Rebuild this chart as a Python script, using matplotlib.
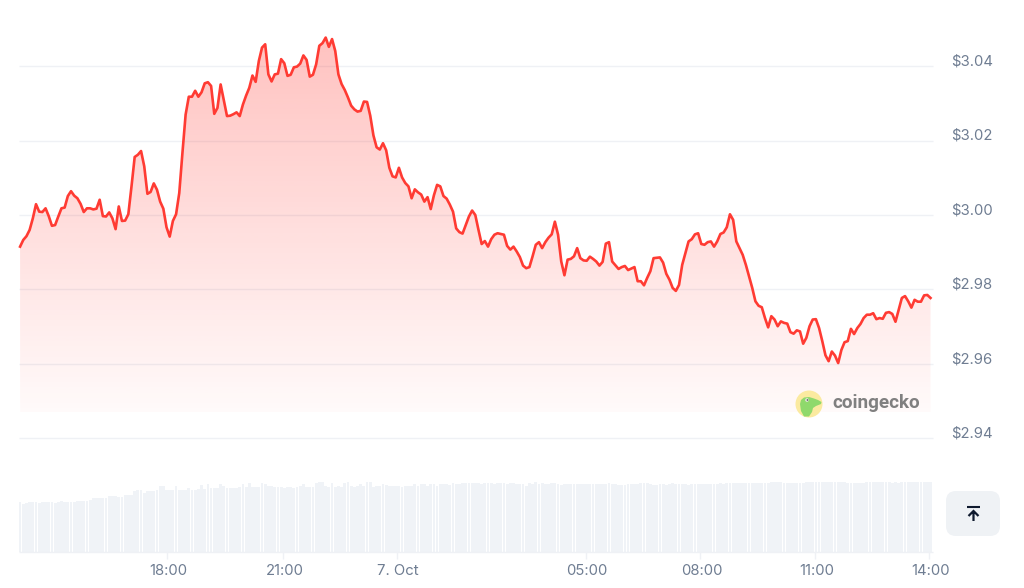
import numpy as np
import matplotlib
matplotlib.use("Agg")
import matplotlib.pyplot as plt
from matplotlib.patches import Circle, FancyBboxPatch, PathPatch, Polygon
from matplotlib.path import Path

plt.rcParams["font.family"] = ["Inter", "DejaVu Sans"]

# hours relative to 7 Oct 00:00, one sample every 5 minutes
START_HOUR = -9.82
STEP_HOUR = 5 / 60

price_a = [
    2.9915, 2.9933, 2.9943, 2.9960, 2.9991, 3.0029, 3.0009, 3.0008, 3.0018, 2.9997,
    2.9971, 2.9973, 2.9996, 3.0018, 3.0020, 3.0051, 3.0064, 3.0052, 3.0045, 3.0030,
    3.0008, 3.0018, 3.0018, 3.0015, 3.0017, 3.0041, 2.9997, 2.9996, 3.0007, 2.9991,
    2.9962, 3.0023, 2.9984, 2.9985, 3.0002, 3.0077, 3.0156, 3.0162, 3.0172, 3.0131,
    3.0057, 3.0062, 3.0085, 3.0068, 3.0036, 3.0017, 2.9967, 2.9942, 2.9984, 3.0002,
    3.0059, 3.0167, 3.0270, 3.0318, 3.0318, 3.0334, 3.0318, 3.0330, 3.0354, 3.0357,
    3.0347, 3.0272, 3.0288, 3.0351, 3.0308, 3.0266, 3.0267, 3.0271, 3.0276, 3.0266,
    3.0297, 3.0321, 3.0342, 3.0375, 3.0358, 3.0414, 3.0450, 3.0459, 3.0378, 3.0359,
    3.0378, 3.0380, 3.0419, 3.0408, 3.0374, 3.0377, 3.0397, 3.0399, 3.0407, 3.0429,
    3.0417, 3.0372, 3.0377, 3.0405, 3.0455, 3.0462, 3.0477, 3.0452, 3.0473, 3.0441,
    3.0378,
]
price_b = [
    3.0352, 3.0336, 3.0316, 3.0294, 3.0284, 3.0278, 3.0280, 3.0305, 3.0304, 3.0267,
    3.0214, 3.0182, 3.0176, 3.0193, 3.0174, 3.0127, 3.0104, 3.0101, 3.0127, 3.0101,
    3.0086, 3.0077, 3.0045, 3.0069, 3.0061, 3.0055, 3.0036, 3.0048, 3.0016, 3.0053,
    3.0081, 3.0077, 3.0051, 3.0044, 3.0028, 3.0009, 2.9964, 2.9954, 2.9950, 2.9973,
    2.9996, 3.0012, 3.0000, 2.9960, 2.9922, 2.9930, 2.9915, 2.9935, 2.9947, 2.9951,
    2.9949, 2.9947, 2.9917, 2.9907, 2.9915, 2.9902, 2.9887, 2.9864, 2.9857, 2.9860,
    2.9889, 2.9920, 2.9927, 2.9911, 2.9927, 2.9939, 2.9948, 2.9982, 2.9947, 2.9875,
    2.9838, 2.9880, 2.9882, 2.9889, 2.9911, 2.9884, 2.9878, 2.9877, 2.9888, 2.9882,
    2.9875, 2.9864, 2.9874, 2.9923, 2.9927, 2.9875, 2.9865, 2.9855, 2.9860, 2.9863,
    2.9852, 2.9856, 2.9860, 2.9822, 2.9822, 2.9811, 2.9831, 2.9849, 2.9884, 2.9885,
]
price_c = [
    2.9886, 2.9872, 2.9842, 2.9826, 2.9804, 2.9796, 2.9812, 2.9866, 2.9897, 2.9929,
    2.9935, 2.9948, 2.9951, 2.9922, 2.9920, 2.9927, 2.9929, 2.9915, 2.9929, 2.9949,
    2.9953, 2.9967, 3.0002, 2.9987, 2.9929, 2.9911, 2.9893, 2.9866, 2.9835, 2.9804,
    2.9768, 2.9756, 2.9752, 2.9723, 2.9698, 2.9728, 2.9719, 2.9701, 2.9714, 2.9710,
    2.9708, 2.9685, 2.9681, 2.9690, 2.9687, 2.9654, 2.9670, 2.9701, 2.9719, 2.9720,
    2.9696, 2.9661, 2.9623, 2.9607, 2.9633, 2.9622, 2.9602, 2.9637, 2.9658, 2.9661,
    2.9694, 2.9680, 2.9696, 2.9707, 2.9723, 2.9732, 2.9732, 2.9736, 2.9720, 2.9723,
    2.9721, 2.9737, 2.9739, 2.9734, 2.9713, 2.9745, 2.9777, 2.9782, 2.9768, 2.9751,
    2.9772, 2.9767, 2.9767, 2.9784, 2.9785, 2.9777,
]
prices = np.array(price_a + price_b + price_c)

# volume in arbitrary units, the scale is not shown on the chart
volume_a = [
    50, 48, 49, 50, 50, 50, 49, 50, 50, 50, 50, 49, 50, 51, 50, 50, 50, 50, 51, 51,
    51, 51, 52, 54, 54, 54, 54, 54, 56, 56, 56, 55, 55, 57, 57, 57, 61, 62, 62, 59,
    61, 61, 61, 62, 66, 66, 62, 62, 62, 66, 62, 62, 62, 64, 62, 62, 63, 67, 63, 68,
    64, 64, 64, 68, 66, 64, 64, 64, 64, 65, 68, 65, 69, 65, 65, 65, 69, 68, 66, 66,
    65, 65, 65, 64, 65,
]
volume_b = [
    65, 64, 65, 66, 68, 65, 65, 65, 69, 70, 70, 66, 65, 69, 65, 66, 65, 69, 70, 66,
    65, 66, 68, 66, 70, 70, 65, 66, 66, 68, 67, 66, 66, 66, 66, 65, 66, 66, 66, 68,
    66, 68, 68, 66, 68, 68, 66, 68, 68, 68, 67, 69, 68, 68, 69, 69, 69, 69, 69, 69,
    68, 69, 69, 69, 68, 69, 69, 69, 68, 69, 69, 68, 68, 68, 66, 69, 68, 70, 68, 69,
    68, 68, 69, 69, 68, 67, 68, 68, 68, 68, 68, 68, 68, 68, 68, 68, 68, 68,
]
volume_c = [
    68, 68, 69, 68, 68, 67, 67, 67, 68, 68, 68, 68, 69, 69, 69, 68, 67, 67, 68, 68,
    67, 68, 69, 68, 68, 68, 68, 67, 68, 68, 68, 68, 68, 68, 68, 68, 68, 69, 68, 69,
    69, 69, 69, 69, 69, 69, 69, 69, 69, 69, 69, 69, 69, 70, 70, 70, 70, 69, 69, 69,
    69, 69, 69, 69, 70, 70, 70, 70, 70, 70, 70, 70, 70, 70, 70, 70, 70, 69, 69, 69,
    69, 69, 69, 70, 70, 70, 70, 70, 70, 70, 70, 69, 70, 69, 70, 70, 70, 70, 70, 70,
    70, 70, 70, 70,
]
volumes = np.array(volume_a + volume_b + volume_c)

price_ticks = [3.04, 3.02, 3.00, 2.98, 2.96, 2.94]
price_labels = ["$3.04", "$3.02", "$3.00", "$2.98", "$2.96", "$2.94"]
time_ticks = [-5.98, -2.93, 0.04, 4.99, 7.98, 10.99, 13.97]
time_labels = ["18:00", "21:00", "7. Oct", "05:00", "08:00", "11:00", "14:00"]

LINE_RED = "#ff3b33"
GRID = "#eff1f5"
BAR = "#f0f3f7"
LABEL = "#6f7d92"

hours = START_HOUR + STEP_HOUR * np.arange(len(prices))
vol_hours = START_HOUR + STEP_HOUR * np.arange(len(volumes))

fig = plt.figure(figsize=(10.24, 5.88), dpi=100)
ax = fig.add_axes([0, 0, 1, 1])
ax.set_xlim(-10.346, 16.461)
ax.set_ylim(2.89973, 3.0578)
ax.axis("off")

x_left, x_right = -9.85, 14.08
ax.hlines(price_ticks, x_left, x_right, color=GRID, lw=1, zorder=1)

for p, lab in zip(price_ticks, price_labels):
    ax.annotate(lab, (14.55, p), xytext=(0, 3.4), textcoords="offset points",
                color=LABEL, fontsize=10.7, va="center", ha="left")

# gradient under the price line
base = 2.94704
grad = np.zeros((256, 1, 4))
grad[..., 0] = 1.0
grad[..., 1] = 0.23
grad[..., 2] = 0.2
grad[..., 3] = np.linspace(0.31, 0.025, 256)[:, None]
top_price = 3.048
im = ax.imshow(grad, extent=[hours[0], hours[-1], base, top_price], aspect="auto",
               origin="upper", zorder=2, interpolation="bilinear")
verts = list(zip(hours, prices)) + [(hours[-1], base), (hours[0], base)]
clip = Polygon(verts, closed=True, transform=ax.transData)
im.set_clip_path(clip)
ax.set_xlim(-10.346, 16.461)
ax.set_ylim(2.89973, 3.0578)

ax.plot(hours, prices, color=LINE_RED, lw=1.9, zorder=3, solid_joinstyle="round")

# volume bars sit on their own hidden scale
ax_vol = ax.twinx()
ax_vol.set_ylim(-36, 552)
ax_vol.axis("off")
ax_vol.bar(vol_hours, volumes, width=STEP_HOUR * 0.88, color=BAR, linewidth=0)
ax_vol.hlines(0, x_left, x_right, color=GRID, lw=1)
ax_vol.vlines(time_ticks, -7, 0, color=GRID, lw=1)

for t, lab in zip(time_ticks, time_labels):
    ax_vol.annotate(lab, (t, -19), xytext=(1, 0), textcoords="offset points",
                    color=LABEL, fontsize=10.7, ha="center", va="center")

# logo and button live in pixel coordinates
ov = fig.add_axes([0, 0, 1, 1], facecolor="none")
ov.set_xlim(0, 1024)
ov.set_ylim(588, 0)
ov.axis("off")
ov.add_patch(Circle((809, 404), 13.5, color="#fbeaa0", lw=0, zorder=5))
dino = [(800, 404), (801, 400), (804, 397.5), (809, 397), (814, 398.5), (818, 400),
        (821.5, 402), (821, 404), (816, 406), (813, 408), (812, 412), (809, 416.5),
        (804, 416.5), (801, 411)]
ov.add_patch(Polygon(dino, closed=True, color="#8fd96c", lw=0, zorder=6))
ov.add_patch(Circle((807, 400), 1.8, color="#e8e8e0", lw=0, zorder=7))
ov.add_patch(Circle((807.5, 400), 0.9, color="#666666", lw=0, zorder=8))
ov.text(832, 403, "coingecko", family=["Roboto", "DejaVu Sans"], weight="bold",
        fontsize=13.6, color="#808080", va="center", ha="left", zorder=6)

ov.add_patch(FancyBboxPatch((956, 501), 34, 25, boxstyle="round,pad=10,rounding_size=10",
                            fc="#eff2f5", ec="none", zorder=5))
ov.plot([967, 980], [507, 507], color="#0f1a2e", lw=1.5, zorder=6, solid_capstyle="butt")
arrow = Path([(973.5, 521), (973.5, 511.5), (968.5, 516), (973.5, 511), (978.5, 516)],
             [Path.MOVETO, Path.LINETO, Path.MOVETO, Path.LINETO, Path.LINETO])
ov.add_patch(PathPatch(arrow, fc="none", ec="#0f1a2e", lw=1.6, zorder=6))

fig.savefig("out.png", dpi=100)
